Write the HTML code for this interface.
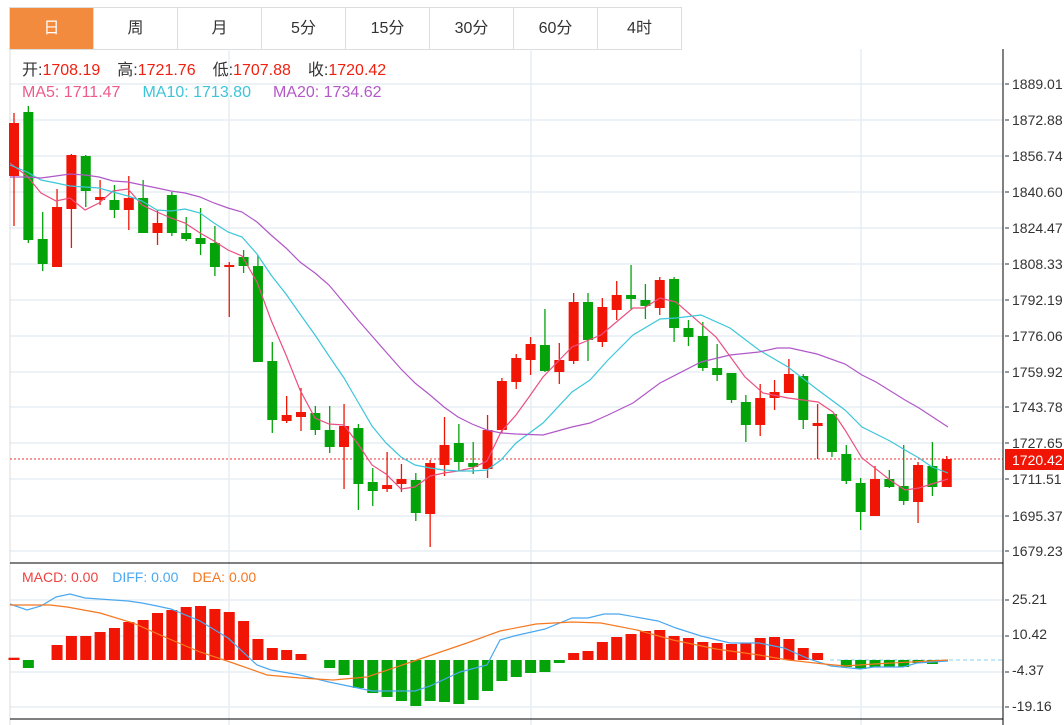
<!DOCTYPE html>
<html><head><meta charset="utf-8">
<style>
html,body{margin:0;padding:0;background:#fff;width:1064px;height:725px;overflow:hidden;font-family:"Liberation Sans","Noto Sans CJK SC",sans-serif;}
.tabs{position:absolute;left:9px;top:7px;height:41px;border:1px solid #ddd;border-right:none;display:flex;}
.tab{width:83px;height:41px;border-right:1px solid #ddd;text-align:center;line-height:41px;font-size:16px;color:#333;}
.tab.on{background:#f38b3f;color:#fff;}
svg{position:absolute;left:0;top:0;}
</style></head><body>
<div class="tabs"><div class="tab on">日</div><div class="tab">周</div><div class="tab">月</div><div class="tab">5分</div><div class="tab">15分</div><div class="tab">30分</div><div class="tab">60分</div><div class="tab">4时</div></div>
<svg id="s" width="1064" height="725" xmlns="http://www.w3.org/2000/svg" font-family="Liberation Sans, Noto Sans CJK SC, sans-serif">
<g id="grid" stroke="#e6edf3" stroke-width="1.5"></g>
<line x1="10" y1="49" x2="10" y2="725" stroke="#ddd"/>
<line x1="10" y1="459" x2="1003" y2="459" stroke="#e33" stroke-dasharray="2,2"/>
<line x1="830" y1="660" x2="1003" y2="660" stroke="#7fd0f0" stroke-dasharray="4,3"/>
<g id="bars"></g>
<g id="lines" fill="none" stroke-width="1.2"></g>
<line x1="10" y1="563" x2="1003" y2="563" stroke="#000"/>
<line x1="10" y1="719" x2="1003" y2="719" stroke="#000"/>
<line x1="1003" y1="49" x2="1003" y2="725" stroke="#000"/>
<g font-size="14" fill="#333" id="ax">
<text x="1012" y="89">1889.01</text><text x="1012" y="125">1872.88</text><text x="1012" y="161">1856.74</text><text x="1012" y="197">1840.60</text><text x="1012" y="233">1824.47</text><text x="1012" y="269">1808.33</text><text x="1012" y="305">1792.19</text><text x="1012" y="341">1776.06</text><text x="1012" y="377">1759.92</text><text x="1012" y="412">1743.78</text><text x="1012" y="448">1727.65</text><text x="1012" y="484">1711.51</text><text x="1012" y="521">1695.37</text><text x="1012" y="556">1679.23</text>
<text x="1012" y="604">25.21</text><text x="1012" y="639">10.42</text><text x="1012" y="675">-4.37</text><text x="1012" y="711">-19.16</text>
</g>
<rect x="1005" y="449" width="59" height="21" fill="#f01505"/>
<text x="1012" y="465" font-size="14" fill="#fff">1720.42</text>
<text x="22" y="75" font-size="16"><tspan fill="#333">开:</tspan><tspan fill="#f02010">1708.19</tspan><tspan fill="#333" dx="17">高:</tspan><tspan fill="#f02010">1721.76</tspan><tspan fill="#333" dx="17">低:</tspan><tspan fill="#f02010">1707.88</tspan><tspan fill="#333" dx="17">收:</tspan><tspan fill="#f02010">1720.42</tspan></text>
<text x="22" y="97" font-size="16"><tspan fill="#ee5a8a">MA5: 1711.47</tspan><tspan fill="#3cc4d8" dx="22">MA10: 1713.80</tspan><tspan fill="#b458c8" dx="22">MA20: 1734.62</tspan></text>
<text x="22" y="582" font-size="14"><tspan fill="#f04040">MACD: 0.00</tspan><tspan fill="#4aa8f0" dx="14">DIFF: 0.00</tspan><tspan fill="#f57820" dx="14">DEA: 0.00</tspan></text>
</svg>
<script>
var NS="http://www.w3.org/2000/svg";
function el(p,t,a){var e=document.createElementNS(NS,t);for(var k in a)e.setAttribute(k,a[k]);document.getElementById(p).appendChild(e);return e;}
[84,120,156,192,228,264,300,336,372,407,443,479,516,551,600,636,672,707].forEach(function(y){el("grid","line",{x1:10,y1:y,x2:1003,y2:y});el("ax","line",{x1:1005,y1:y,x2:1009,y2:y,stroke:"#333"});});
[229,531,861].forEach(function(x){el("grid","line",{x1:x,y1:49,x2:x,y2:725});});
var R="#f01505",G="#04a30a";
var C=[["r",123,176,113,226],["g",112,240,106,243],["g",239,264,212,271],["r",207,267,189,267],["r",155,209,154,248],["g",156,191,155,207],["r",197,200,180,205],["g",200,210,185,218],["r",198,210,176,230],["g",198,233,180,233],["r",223,233,210,245],["g",195,233,192,236],["g",233,239,217,241],["g",238,244,208,255],["g",243,267,226,276],["r",265,267,262,317],["g",257,266,250,273],["g",266,362,255,362],["g",361,420,342,433],["r",415,421,396,423],["r",412,417,388,431],["g",413,430,406,435],["g",430,447,406,453],["r",426,447,404,489],["g",428,484,424,510],["g",482,491,468,506],["r",485,489,452,492],["r",479,484,464,492],["g",480,513,473,521],["r",463,514,460,547],["r",445,465,417,476],["g",443,462,424,471],["g",463,467,442,474],["r",430,469,415,478],["r",381,430,378,433],["r",358,382,354,389],["r",344,360,337,375],["g",345,371,309,372],["r",360,372,343,384],["r",302,361,293,364],["g",302,340,293,361],["r",307,342,298,347],["r",295,310,281,320],["g",295,299,265,309],["g",300,306,284,319],["r",280,308,277,315],["g",279,328,277,342],["g",328,337,320,346],["g",336,368,322,371],["g",368,375,344,381],["g",373,400,373,403],["g",402,425,395,442],["r",398,425,384,436],["r",392,398,380,410],["r",374,393,359,393],["g",376,420,374,429],["r",423,426,404,459],["g",414,452,414,457],["g",454,481,445,484],["g",483,512,478,530],["r",479,516,466,516],["g",479,487,470,488],["g",486,501,445,505],["r",465,502,462,523],["g",466,487,442,496],["r",459,487,456,487]];
var H=[657.7,668,660,645,636,636,632,628,622,620,613,610,607,606,609,612,621,639,648,650,654,660,668,675,688,693,697,701,706,701,702,704,700,691,681,677,673,672,663,653,651,642,637,634,631,630,636,638,642,643,644,643,638,637,639,648,653,660,667,669,667,667,667,663,664,660];
C.forEach(function(c,i){var x=14+i*14.35,col=c[0]=="r"?R:G;
el("bars","line",{x1:x,y1:c[3],x2:x,y2:c[4],stroke:col,"stroke-width":1.3});
el("bars","rect",{x:x-5,y:c[1],width:10,height:Math.max(1.5,c[2]-c[1]),fill:col});
var h=H[i],z=660;var hc=h<z?R:G;if(Math.abs(h-z)>0.6)el("bars","rect",{x:x-5.5,y:Math.min(h,z),width:11,height:Math.abs(h-z),fill:hc});});
function pl(pts,col){el("lines","polyline",{points:pts.map(function(p){return p.join(",")}).join(" "),stroke:col});}
pl([[10,163],[27,176],[41,193],[56,201],[70,198],[85,210],[99,203],[113,191],[128,189],[142,205],[157,212],[171,218],[185,223],[200,233],[214,241],[228,250],[242,256],[257,282],[271,320],[286,355],[300,390],[315,418],[329,424],[344,425],[358,444],[372,465],[386,474],[401,489],[415,487],[430,476],[444,473],[458,471],[472,468],[487,461],[501,432],[516,415],[529,397],[543,377],[572,347],[601,335],[633,308],[644,308],[660,298],[676,302],[716,337],[745,377],[763,393],[788,398],[818,402],[833,412],[845,430],[862,458],[890,480],[905,490],[919,488],[948,479]],"#ea4f80");
pl([[10,165],[27,172],[41,180],[56,183],[70,186],[85,187],[99,188],[113,192],[128,196],[142,201],[157,210],[171,211],[185,209],[200,213],[214,223],[228,232],[242,237],[257,254],[271,275],[286,294],[300,314],[315,335],[329,356],[344,378],[358,402],[372,426],[386,443],[401,457],[415,465],[430,468],[444,470],[458,471],[472,471],[487,470],[501,460],[516,443],[543,423],[572,392],[590,380],[608,360],[633,335],[660,319],[676,318],[701,315],[730,328],[759,350],[788,367],[818,390],[845,410],[862,427],[890,441],[905,450],[919,458],[932,467],[948,473]],"#3cc6da");
pl([[10,177],[27,177],[41,178],[56,176],[70,174],[85,175],[99,177],[113,181],[128,182],[142,185],[157,188],[171,191],[185,193],[200,197],[214,203],[228,208],[242,212],[257,222],[271,235],[286,248],[300,262],[315,273],[329,285],[344,303],[358,320],[372,336],[386,352],[401,369],[415,383],[430,395],[444,407],[458,417],[472,424],[487,430],[501,433],[516,434],[543,435],[572,427],[590,423],[608,415],[633,403],[660,383],[701,362],[730,355],[759,352],[777,348],[790,348],[817,354],[845,364],[862,375],[876,382],[905,400],[919,408],[948,427]],"#b058c8");
pl([[10,604],[27,610],[41,606],[56,597],[70,594],[85,598],[128,601],[142,603],[157,606],[171,609],[200,621],[228,638],[257,665],[271,670],[300,675],[329,682],[358,688],[372,691],[415,691],[430,686],[460,672],[487,665],[500,640],[514,636],[545,629],[572,618],[588,618],[604,614],[619,614],[658,621],[676,628],[701,636],[730,643],[759,643],[784,648],[809,659],[831,666],[860,669],[874,667],[903,667],[917,663],[948,661]],"#4aa8f0");
pl([[10,605],[50,605],[67,607],[100,613],[133,623],[167,638],[200,652],[233,663],[267,675],[300,678],[333,680],[367,677],[417,660],[467,643],[500,631],[536,624],[572,622],[601,623],[637,630],[673,640],[716,649],[759,655],[788,660],[824,664],[845,666],[874,664],[948,660]],"#f57820");
</script>
</body></html>
